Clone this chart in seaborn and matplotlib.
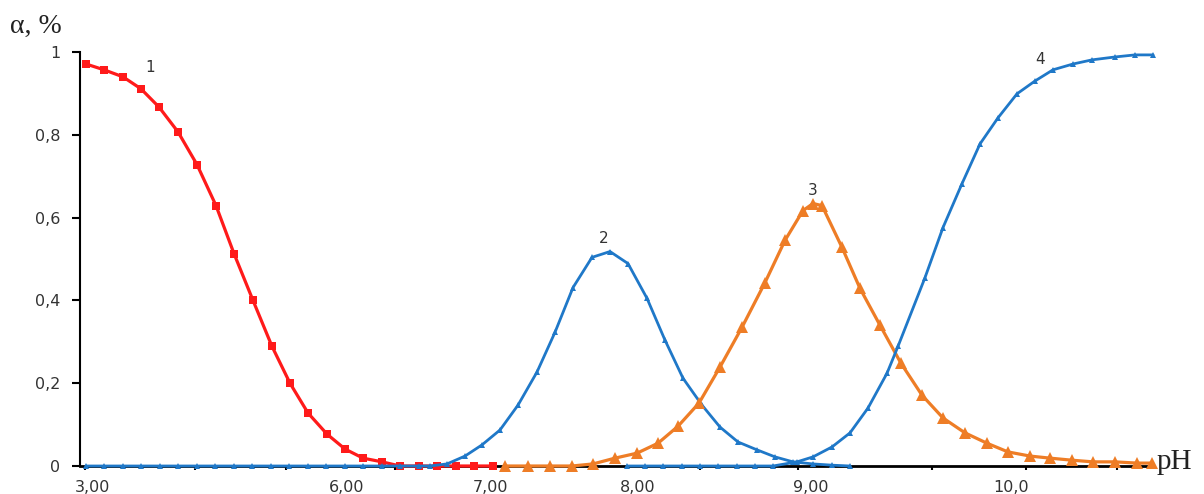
import matplotlib
matplotlib.use("Agg")
import matplotlib.pyplot as plt
import seaborn as sns
import numpy as np

# ---- data (positions along the horizontal axis, fraction alpha) ----
red_x = [0.6, 2.4, 4.3, 6.1, 7.9, 9.8, 11.7, 13.6, 15.4, 17.3, 19.2, 21.0, 22.8, 24.7,
         26.5, 28.3, 30.2, 32.0, 33.9, 35.7, 37.6, 39.4, 41.3]
red_y = [0.971, 0.957, 0.940, 0.911, 0.867, 0.807, 0.728, 0.629, 0.513, 0.400, 0.289,
         0.200, 0.128, 0.077, 0.041, 0.019, 0.010, 0, 0, 0, 0, 0, 0]

blue2_x = [0.6, 2.4, 4.3, 6.1, 8.0, 9.8, 11.7, 13.5, 15.4, 17.2, 19.1, 20.9, 22.8, 24.6,
           26.5, 28.3, 30.2, 32.0, 33.9, 35.0, 36.7, 38.5, 40.2, 42.0, 43.8, 45.7, 47.5,
           49.3, 51.2, 53.0, 54.8, 56.7, 58.5, 60.3, 62.2, 64.0, 65.8, 67.7, 69.5, 71.3,
           73.3, 75.2, 77.0]
blue2_y = [0] * 19 + [0, 0.005, 0.024, 0.051, 0.087, 0.147, 0.227, 0.323, 0.431, 0.504,
                      0.518, 0.489, 0.405, 0.304, 0.212, 0.147, 0.094, 0.058, 0.039,
                      0.022, 0.010, 0.005, 0.002, 0]

orange_x = [42.5, 44.8, 47.0, 49.2, 51.3, 53.5, 55.7, 57.8, 59.8, 61.9, 64.0, 66.2, 68.5,
            70.5, 72.3, 73.3, 74.2, 76.2, 78.0, 80.0, 82.1, 84.2, 86.3, 88.5, 90.7, 92.8,
            95.0, 97.0, 99.2, 101.3, 103.5, 105.7, 107.2]
orange_y = [0, 0, 0, 0, 0.005, 0.019, 0.031, 0.055, 0.096, 0.152, 0.239, 0.335, 0.443,
            0.545, 0.617, 0.634, 0.629, 0.528, 0.429, 0.340, 0.248, 0.171, 0.116, 0.080,
            0.055, 0.034, 0.024, 0.019, 0.014, 0.010, 0.010, 0.007, 0.007]

blue4_x = [54.7, 56.5, 58.3, 60.2, 62.0, 63.8, 65.7, 67.5, 69.3, 71.7, 73.3, 75.2, 77.0,
           78.8, 80.7, 81.8, 84.5, 86.3, 88.2, 90.0, 91.8, 93.7, 95.5, 97.3, 99.3, 101.2,
           103.5, 105.5, 107.3]
blue4_y = [0, 0, 0, 0, 0, 0, 0, 0, 0, 0.010, 0.022, 0.046, 0.080, 0.140, 0.224, 0.289,
           0.455, 0.576, 0.682, 0.778, 0.841, 0.899, 0.930, 0.957, 0.971, 0.981, 0.988,
           0.993, 0.993]

xtick_pos = [1.2, 26.7, 41.0, 55.8, 73.1, 93.1]
xtick_labels = ["3,00", "6,00", "7,00", "8,00", "9,00", "10,0"]
xminor_pos = [0.5, 11.5, 20.6, 31.5, 42.5, 51.5, 62.0, 71.8, 85.2, 94.6, 103.7]
ytick_pos = [0, 0.2, 0.4, 0.6, 0.8, 1.0]
ytick_labels = ["0", "0,2", "0,4", "0,6", "0,8", "1"]

curve_labels = ["1", "2", "3", "4"]
curve_label_x = [7.0, 52.4, 73.3, 96.0]
curve_label_y = [0.962, 0.549, 0.665, 0.981]

RED = "#ff1a1a"
BLUE = "#1f78c8"
ORANGE = "#ee7d26"
TXT = "#333333"

sns.set_theme(style="white")
plt.rcParams["font.family"] = ["DejaVu Sans"]

fig = plt.figure(figsize=(12.04, 4.94), dpi=100)
ax = fig.add_axes([80 / 1204, 28 / 494, 1072 / 1204, 414 / 494])

sns.lineplot(x=red_x, y=red_y, ax=ax, color=RED, lw=2.3, marker="s", markersize=5.5,
             markeredgewidth=0, sort=False, clip_on=False)
sns.lineplot(x=blue2_x, y=blue2_y, ax=ax, color=BLUE, lw=2.0, marker="^", markersize=5,
             markeredgewidth=0, sort=False, clip_on=False)
sns.lineplot(x=orange_x, y=orange_y, ax=ax, color=ORANGE, lw=2.3, marker="^", markersize=8,
             markeredgewidth=0, sort=False, clip_on=False)
sns.lineplot(x=blue4_x, y=blue4_y, ax=ax, color=BLUE, lw=2.0, marker="^", markersize=5,
             markeredgewidth=0, sort=False, clip_on=False)

ax.set_xlim(0, 107.2)
ax.set_ylim(0, 1.0)

for s in ["top", "right"]:
    ax.spines[s].set_visible(False)
ax.spines["left"].set_color("black")
ax.spines["left"].set_linewidth(1.5)
ax.spines["bottom"].set_color("black")
ax.spines["bottom"].set_linewidth(2.0)
ax.spines["bottom"].set_zorder(1)

ax.set_yticks(ytick_pos)
ax.set_yticklabels(ytick_labels)
ax.tick_params(axis="y", direction="out", length=6, width=1.5, color="black",
               pad=8, labelsize=11.5, labelcolor=TXT, left=True)

ax.set_xticks(xtick_pos)
ax.set_xticklabels(xtick_labels)
ax.tick_params(axis="x", which="major", length=0, pad=10, labelsize=11.5, labelcolor=TXT)
ax.set_xticks(xminor_pos, minor=True)
ax.tick_params(axis="x", which="minor", direction="out", length=3, width=1.5,
               color="black", bottom=True)

for t, xx, yy in zip(curve_labels, curve_label_x, curve_label_y):
    ax.text(xx, yy, t, fontsize=11, color=TXT, ha="center", va="center")

ax.set_xlabel("")
ax.set_ylabel("")
fig.text(10 / 1204, 1 - 26 / 494, "α, %", fontsize=20, family="Liberation Serif",
         color="#222222", ha="left", va="center")
fig.text(1157 / 1204, 1 - 462 / 494, "pH", fontsize=21, family="Liberation Serif",
         color="#222222", ha="left", va="center")

fig.savefig("out.png", dpi=100, facecolor="white")
